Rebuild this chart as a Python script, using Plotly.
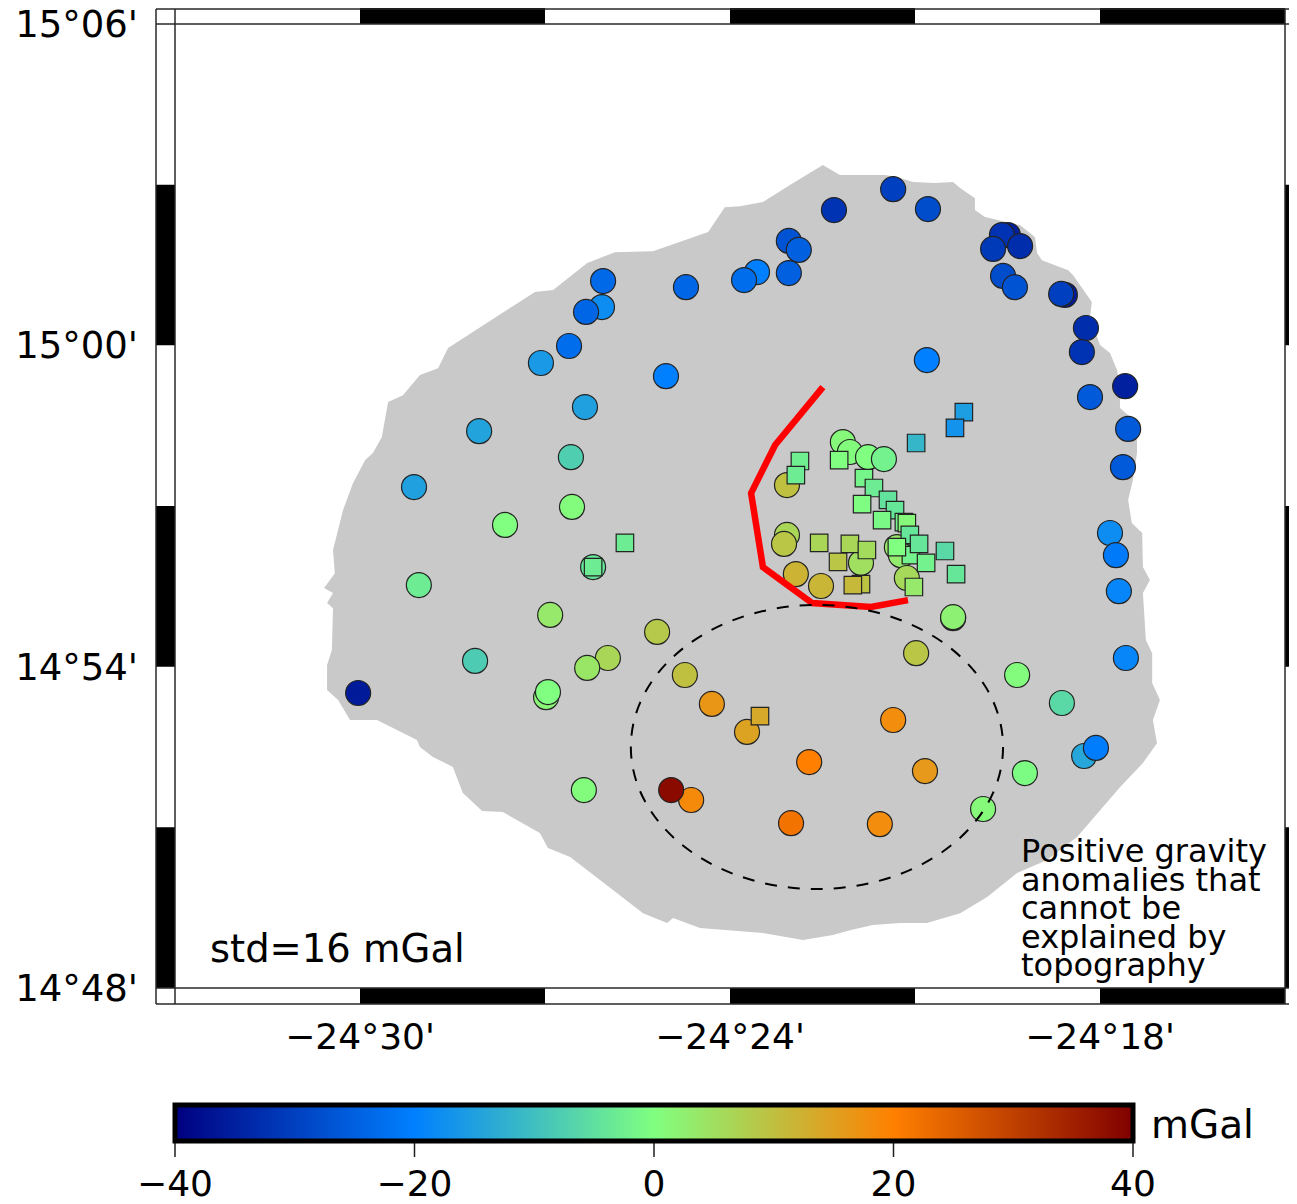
import plotly.graph_objects as go

# Land mask outline (lon, lat in degrees)
land_lon = [-24.3749,-24.3703,-24.3581,-24.3549,-24.3505,-24.3446,-24.3397,-24.3378,-24.3338,-24.3338,-24.3311,-24.3216,-24.3176,-24.3170,-24.3157,-24.3086,-24.3073,-24.3041,-24.3022,-24.3027,-24.3000,-24.2973,-24.2954,-24.2946,-24.2946,-24.2900,-24.2900,-24.2911,-24.2924,-24.2914,-24.2886,-24.2884,-24.2865,-24.2884,-24.2876,-24.2859,-24.2859,-24.2838,-24.2857,-24.2846,-24.2884,-24.2946,-24.3000,-24.3062,-24.3143,-24.3224,-24.3305,-24.3378,-24.3468,-24.3541,-24.3614,-24.3676,-24.3722,-24.3803,-24.3911,-24.4081,-24.4154,-24.4170,-24.4235,-24.4305,-24.4432,-24.4492,-24.4514,-24.4614,-24.4670,-24.4722,-24.4749,-24.4803,-24.4838,-24.4846,-24.4954,-24.5027,-24.5059,-24.5089,-24.5089,-24.5076,-24.5073,-24.5089,-24.5073,-24.5097,-24.5068,-24.5073,-24.5054,-24.5046,-24.5019,-24.4986,-24.4965,-24.4941,-24.4924,-24.4884,-24.4838,-24.4789,-24.4762,-24.4695,-24.4616,-24.4527,-24.4478,-24.4386,-24.4311,-24.4208,-24.4059,-24.4014,-24.3973,-24.3911,-24.3838,-24.3784,-24.3749]
land_lat = [15.0561,15.0530,15.0530,15.0524,15.0508,15.0505,15.0508,15.0490,15.0458,15.0421,15.0399,15.0374,15.0337,15.0287,15.0265,15.0234,15.0219,15.0166,15.0135,15.0088,15.0001,14.9976,14.9923,14.9870,14.9805,14.9758,14.9665,14.9581,14.9519,14.9447,14.9416,14.9310,14.9270,14.9229,14.9083,14.9042,14.8949,14.8896,14.8834,14.8762,14.8700,14.8625,14.8554,14.8470,14.8398,14.8358,14.8283,14.8233,14.8202,14.8202,14.8196,14.8180,14.8165,14.8149,14.8171,14.8187,14.8218,14.8202,14.8233,14.8296,14.8408,14.8436,14.8482,14.8548,14.8551,14.8607,14.8688,14.8719,14.8750,14.8772,14.8834,14.8834,14.8896,14.8927,14.9005,14.9052,14.9182,14.9198,14.9229,14.9245,14.9291,14.9363,14.9447,14.9487,14.9571,14.9643,14.9665,14.9715,14.9824,14.9845,14.9908,14.9929,14.9992,15.0041,15.0101,15.0166,15.0172,15.0256,15.0290,15.0293,15.0353,15.0430,15.0433,15.0446,15.0499,15.0536,15.0561]

# Gravity anomaly stations (circles)
circle_lon = [-24.4343,-24.4346,-24.4389,-24.4119,-24.3927,-24.3962,-24.4435,-24.4511,-24.4173,-24.4392,-24.4678,-24.4430,-24.3719,-24.3559,-24.3465,-24.3841,-24.3814,-24.3841,-24.3249,-24.3265,-24.3289,-24.3216,-24.3262,-24.3230,-24.3095,-24.3105,-24.3038,-24.3049,-24.2932,-24.3027,-24.2924,-24.2938,-24.3468,-24.3695,-24.3676,-24.3627,-24.3584,-24.3846,-24.3846,-24.3854,-24.3822,-24.3754,-24.3646,-24.3549,-24.3538,-24.3522,-24.3397,-24.3397,-24.4854,-24.4608,-24.4427,-24.4841,-24.4370,-24.4486,-24.4197,-24.4330,-24.4386,-24.4689,-24.5005,-24.4497,-24.4492,-24.4122,-24.4049,-24.3954,-24.3786,-24.3559,-24.4395,-24.4105,-24.4159,-24.3835,-24.3595,-24.2973,-24.2957,-24.2949,-24.2930,-24.3224,-24.3103,-24.3043,-24.3011,-24.3203,-24.3316,-24.3497,-24.3473]
circle_lat = [15.0200,15.0119,15.0104,15.0181,15.0228,15.0203,14.9998,14.9945,14.9904,14.9808,14.9733,14.9652,15.0421,15.0486,15.0424,15.0325,15.0297,15.0225,15.0343,15.0343,15.0300,15.0309,15.0216,15.0181,15.0157,15.0160,15.0054,14.9979,14.9873,14.9839,14.9740,14.9621,14.9954,14.9699,14.9668,14.9652,14.9646,14.9565,14.9410,14.9382,14.9288,14.9251,14.9323,14.9372,14.9347,14.9276,14.9151,14.9154,14.9559,14.9441,14.9497,14.9254,14.9310,14.9161,14.9108,14.9027,14.8996,14.9018,14.8918,14.8905,14.8921,14.8974,14.8884,14.8797,14.8703,14.8834,14.8616,14.8585,14.8616,14.8513,14.8510,14.9416,14.9347,14.9235,14.9027,14.8974,14.8887,14.8722,14.8747,14.8669,14.8557,14.9042,14.8675]
circle_mgal = [-23.6,-18,-24,-24,-20,-23,-23,-16,-20,-15,-14.5,-7.5,-32,-30,-28,-27,-25,-25,-35,-32,-31,-33,-28,-27,-36,-30,-33,-32,-35,-26,-26,-26,-20,1,0.5,0,-2,10,6.5,9,12,11.5,5,4,3,6,1,2,-15,0,0.5,-3,-4,3.5,8.5,6.5,4,-8,-36,1.5,0,10,16.5,14.5,20,18,0.5,18.5,38.5,22,18,-18,-21,-19,-19,0.5,-6,-14,-20.5,-0.5,1,9,16]

# Additional stations (squares)
square_lon = [-24.3368,-24.3392,-24.3497,-24.3811,-24.3822,-24.3705,-24.3638,-24.3611,-24.3573,-24.3554,-24.3643,-24.3589,-24.3530,-24.3522,-24.3514,-24.3511,-24.3489,-24.3549,-24.3419,-24.3470,-24.3389,-24.3503,-24.3759,-24.3676,-24.3630,-24.3708,-24.3646,-24.3668,-24.4370,-24.4284,-24.3919]
square_lat = [14.9792,14.9743,14.9696,14.9640,14.9596,14.9643,14.9587,14.9556,14.9519,14.9487,14.9506,14.9456,14.9450,14.9447,14.9410,14.9347,14.9382,14.9372,14.9360,14.9323,14.9288,14.9248,14.9385,14.9382,14.9363,14.9326,14.9257,14.9254,14.9310,14.9385,14.8846]
square_mgal = [-15.5,-17,-11.5,-2.5,-3,0,-1.5,-3,-4.5,-4,-0.3,-1,-1.5,1,-4,-2,-4,0,-6,-2,-4,3.5,6.5,6.5,5.5,9,9.5,11,-3,-3,13.5]

# Red fault trace
fault_lon = [-24.3749,-24.3878,-24.3943,-24.3911,-24.3778,-24.3619,-24.3519]
fault_lat = [14.9870,14.9690,14.9540,14.9310,14.9198,14.9186,14.9207]

# Dashed ellipse
ell_lon, ell_lat, ell_rx, ell_ry = -24.3765, 14.875, 0.0503, 0.0442

x_ticks = [-24.5, -24.4, -24.3]
x_labels = ["\u221224°30'", "\u221224°24'", "\u221224°18'"]
y_ticks = [14.8, 14.9, 15.0, 15.1]
y_labels = ["14°48'", "14°54'", "15°00'", "15°06'"]
cbar_ticks = [-40, -20, 0, 20, 40]
cbar_labels = ["\u221240", "\u221220", "0", "20", "40"]
note_lines = ["Positive gravity", "anomalies that", "cannot be", "explained by", "topography"]

X_RANGE = [-24.55, -24.25]
Y_RANGE = [14.8, 15.1]
PAGE = 8                       # default page margin of the written html
W, H = 1297 - PAGE, 1204 - PAGE
L, R, T, B = 175, 1285, 24, 988   # plot area in screenshot pixels
PW, PH = R - L, B - T
FONT = "DejaVu Sans"
BIG = 36

def px(v):  # screenshot column to paper x
    return (v - L) / PW
def py(v):  # screenshot row to paper y
    return (B - v) / PH

jet = [[0, "rgb(0,0,128)"], [0.25, "rgb(0,128,255)"], [0.5, "rgb(128,255,128)"],
       [0.75, "rgb(255,128,0)"], [1, "rgb(128,0,0)"]]

fig = go.Figure()
fig.add_trace(go.Scatter(x=land_lon, y=land_lat, mode="lines", fill="toself",
                         fillcolor="#c9c9c9", line=dict(width=0, color="#c9c9c9"),
                         hoverinfo="skip", showlegend=False))
mline = dict(color="rgb(35,35,35)", width=1.2)
fig.add_trace(go.Scatter(x=circle_lon, y=circle_lat, mode="markers", showlegend=False,
                         marker=dict(symbol="circle", size=25, color=circle_mgal,
                                     coloraxis="coloraxis", line=mline)))
fig.add_trace(go.Scatter(x=square_lon, y=square_lat, mode="markers", showlegend=False,
                         marker=dict(symbol="square", size=17.5, color=square_mgal,
                                     coloraxis="coloraxis", line=mline)))
fig.add_trace(go.Scatter(x=fault_lon, y=fault_lat, mode="lines", showlegend=False,
                         line=dict(color="#ff0000", width=6.5)))

shapes = [dict(type="circle", xref="x", yref="y", x0=ell_lon - ell_rx, x1=ell_lon + ell_rx,
               y0=ell_lat - ell_ry, y1=ell_lat + ell_ry,
               line=dict(color="black", width=2, dash="12px,11px"))]

# Checkered frame, one band per 3 arc-minutes
step = 0.05
for i in range(6):
    if i % 2 == 1:
        a = X_RANGE[0] + i * step
        for y0, y1 in ((1, py(8)), (py(1004), 0)):
            shapes.append(dict(type="rect", xref="x", yref="paper", x0=a, x1=a + step, y0=y0, y1=y1,
                               fillcolor="black", line=dict(width=0)))
    if i % 2 == 0:
        a = Y_RANGE[0] + i * step
        for x0, x1 in ((px(156), 0), (1, px(1304))):
            shapes.append(dict(type="rect", xref="paper", yref="y", x0=x0, x1=x1, y0=a, y1=a + step,
                               fillcolor="black", line=dict(width=0)))
frame = dict(color="rgb(40,40,40)", width=1.5)
for yy in (9, 24, 988, 1004):
    shapes.append(dict(type="line", xref="paper", yref="paper", x0=px(156), x1=px(1304), y0=py(yy), y1=py(yy), line=frame))
for xx in (156, 175, 1285):
    shapes.append(dict(type="line", xref="paper", yref="paper", x0=px(xx), x1=px(xx), y0=py(9), y1=py(1004), line=frame))
# Colour bar tick lines, running through the bar and below it
for v in cbar_ticks:
    xp = px(175 + (v + 40) / 80 * 958)
    shapes.append(dict(type="line", xref="paper", yref="paper", x0=xp, x1=xp, y0=py(1107), y1=py(1157),
                       line=dict(color="rgb(30,30,30)", width=1.5)))

annotations = [dict(text="std=16 mGal", x=px(208), y=py(948), xref="paper", yref="paper",
                    xanchor="left", yanchor="middle", showarrow=False,
                    font=dict(family=FONT, size=38.5, color="black")),
               dict(text="mGal", x=px(1149), y=py(1124), xref="paper", yref="paper",
                    xanchor="left", yanchor="middle", showarrow=False,
                    font=dict(family=FONT, size=39, color="black"))]
for i, line in enumerate(note_lines):
    annotations.append(dict(text=line, x=px(1019), y=py(851 + i * 28.5), xref="paper", yref="paper",
                            xanchor="left", yanchor="middle", showarrow=False,
                            font=dict(family=FONT, size=32, color="black")))

fig.update_layout(
    width=W, height=H,
    margin=dict(l=L - PAGE, r=W - (R - PAGE), t=T - PAGE, b=H - (B - PAGE), autoexpand=False, pad=0),
    paper_bgcolor="white", plot_bgcolor="white",
    font=dict(family=FONT, size=BIG, color="black"),
    showlegend=False,
    xaxis=dict(range=X_RANGE, tickmode="array", tickvals=x_ticks, ticktext=x_labels, ticks="",
               showgrid=False, zeroline=False, showline=False, ticklabelstandoff=24,
               tickfont=dict(family=FONT, size=BIG, color="black")),
    yaxis=dict(range=Y_RANGE, tickmode="array", tickvals=y_ticks, ticktext=y_labels, ticks="",
               showgrid=False, zeroline=False, showline=False, ticklabelstandoff=36,
               ticklabeloverflow="allow",
               tickfont=dict(family=FONT, size=37, color="black")),
    coloraxis=dict(cmin=-40, cmax=40, colorscale=jet,
                   colorbar=dict(orientation="h", xref="paper", yref="paper",
                                 x=0, xanchor="left", y=py(1104.5), yanchor="top",
                                 lenmode="pixels", len=958, thicknessmode="pixels", thickness=35.5,
                                 xpad=0, ypad=0, outlinewidth=5, outlinecolor="black", borderwidth=0,
                                 tickmode="array", tickvals=cbar_ticks, ticktext=cbar_labels,
                                 ticks="outside", ticklen=10, tickwidth=1, tickcolor="rgba(0,0,0,0)",
                                 tickfont=dict(family=FONT, size=BIG, color="black"))),
    shapes=shapes, annotations=annotations,
)
fig.write_html("out.html")
